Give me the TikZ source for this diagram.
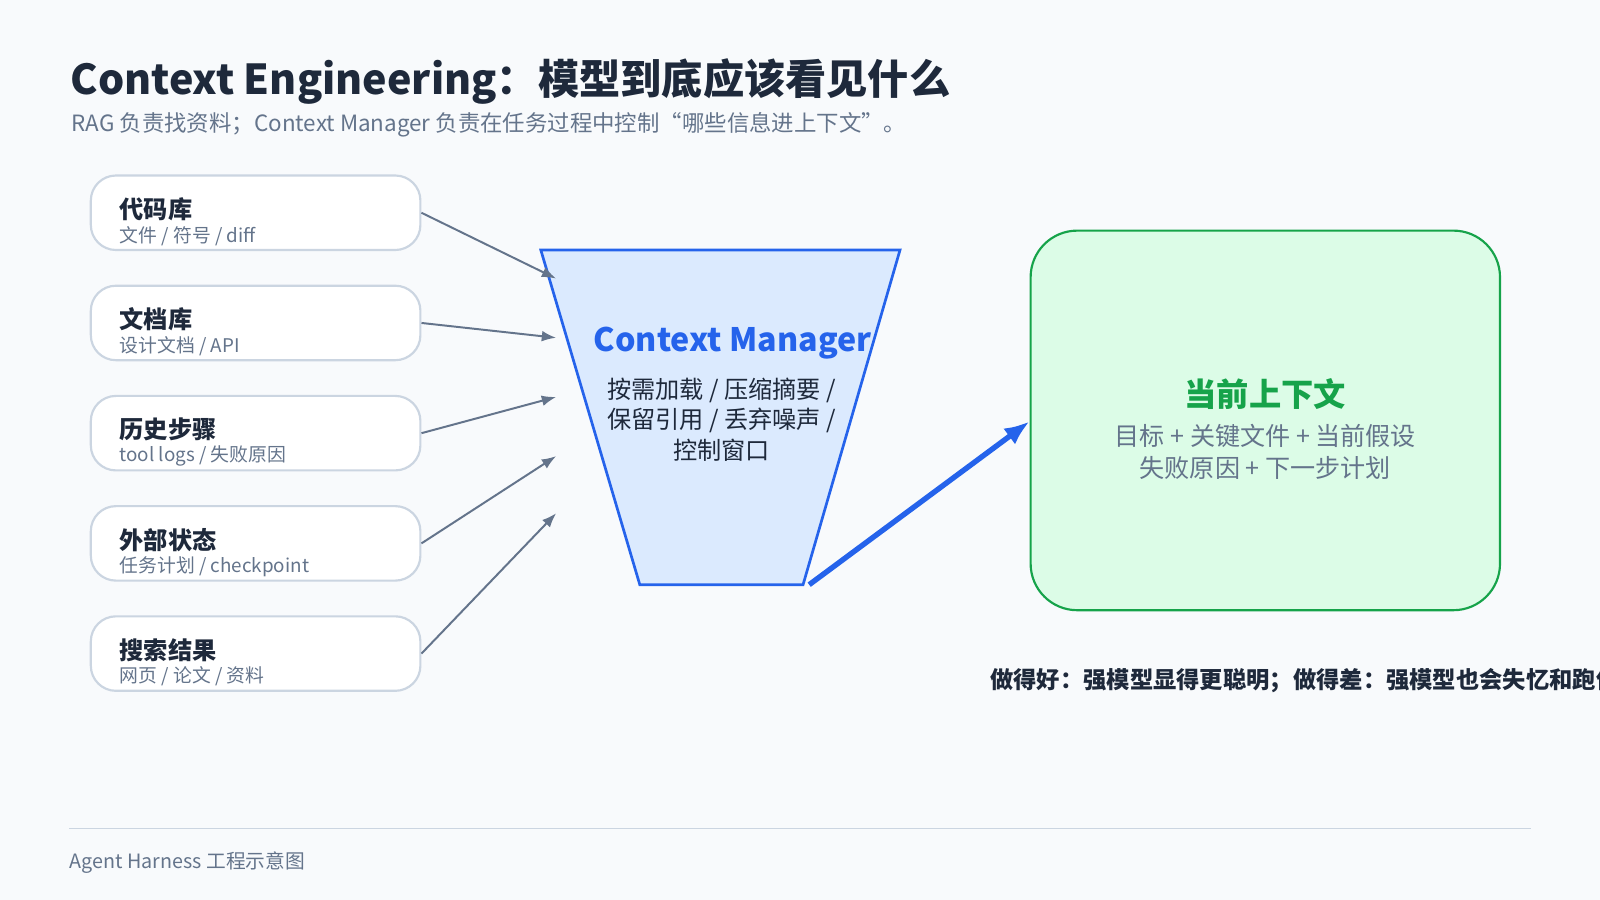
\documentclass[tikz,border=0pt]{standalone}
\usepackage{fontspec}
\setmainfont{Noto Sans CJK SC}
\usetikzlibrary{arrows.meta}
\definecolor{bg}{HTML}{F8FAFC}
\definecolor{ink}{HTML}{1E293B}
\definecolor{sub}{HTML}{64748B}
\definecolor{edge}{HTML}{CBD5E1}
\definecolor{blu}{HTML}{2563EB}
\definecolor{blufill}{HTML}{DBEAFE}
\definecolor{grn}{HTML}{16A34A}
\definecolor{grnfill}{HTML}{DCFCE7}
\tikzset{
 src/.style={draw=edge,fill=white,rounded corners=14,line width=1.2pt,minimum width=323*0.02cm,minimum height=73*0.02cm},
 conn/.style={draw=sub,line width=1.1pt,-{Latex[length=8pt,width=6pt]}},
}
\begin{document}
\begin{tikzpicture}[x=0.02cm,y=-0.02cm]
\useasboundingbox (0,0) rectangle (1568,882);
\clip (0,0) rectangle (1568,882);
\fill[bg] (0,0) rectangle (1568,882);
\node[anchor=west,inner sep=0,text=ink,font=\fontsize{23}{27}\selectfont\bfseries] (title) at (69,80) {Context Engineering：模型到底应该看见什么};
\node[anchor=west,inner sep=0,text=sub,font=\fontsize{12.5}{15}\selectfont] (subt) at (70,122) {RAG 负责找资料；Context Manager 负责在任务过程中控制“哪些信息进上下文”。};
\foreach \i/\t/\s in {0/代码库/{文件 / 符号 / diff},1/文档库/{设计文档 / API},2/历史步骤/{tool logs / 失败原因},3/外部状态/{任务计划 / checkpoint},4/搜索结果/{网页 / 论文 / 资料}}{
 \node[src] (b\i) at (250.5,208.5+108*\i) {};
 \node[anchor=west,inner sep=0,text=ink,font=\fontsize{13.5}{16}\selectfont\bfseries] (bt\i) at (117,205+108*\i) {\t};
 \node[anchor=west,inner sep=0,text=sub,font=\fontsize{10.5}{12}\selectfont] (bs\i) at (117,231+108*\i) {\s};
}
\coordinate (f1) at (530,245); \coordinate (f2) at (882,245);
\coordinate (f3) at (787,573); \coordinate (f4) at (627,573);
\draw[blu,fill=blufill,line width=1.5pt] (f1)--(f2)--(f3)--(f4)--cycle;
\node[text=blu,font=\fontsize{18}{21}\selectfont\bfseries,inner sep=0] (cm) at (718,336) {Context Manager};
\node[text=ink,font=\fontsize{13.5}{18}\selectfont,align=center,inner sep=0] (cmt) at (707,411) {按需加载 / 压缩摘要 /\\[-1pt]保留引用 / 丢弃噪声 /\\[-1pt]控制窗口};
\foreach \i/\y in {0/273,1/331,2/389,3/447,4/503}{
 \coordinate (t\i) at (545,\y);
 \draw[conn] (b\i.east) -- (t\i);
}
\node[draw=grn,fill=grnfill,rounded corners=26,line width=1.2pt,minimum width=460*0.02cm,minimum height=372*0.02cm] (out) at (1240,412) {};
\node[text=grn,font=\fontsize{18}{21}\selectfont\bfseries,inner sep=0] (ot) at (1240,386) {当前上下文};
\node[text=sub,font=\fontsize{14}{18}\selectfont,align=center,inner sep=0] (os) at (1240,443) {目标 + 关键文件 + 当前假设\\失败原因 + 下一步计划};
\coordinate (fa) at (793,573);
\draw[blu,line width=3pt,-{Latex[length=14pt,width=11pt]}] (fa) -- (out.west |- 0,413);
\node[anchor=west,inner sep=0,text=ink,font=\fontsize{13}{15}\selectfont\bfseries] (note) at (970,667) {做得好：强模型显得更聪明；做得差：强模型也会失忆和跑偏。};
\coordinate (l1) at (68,812); \coordinate (l2) at (1500,812);
\draw[edge,line width=1pt] (l1)--(l2);
\node[anchor=west,inner sep=0,text=sub,font=\fontsize{11}{13}\selectfont] (foot) at (68,845) {Agent Harness 工程示意图};
\end{tikzpicture}
\end{document}
